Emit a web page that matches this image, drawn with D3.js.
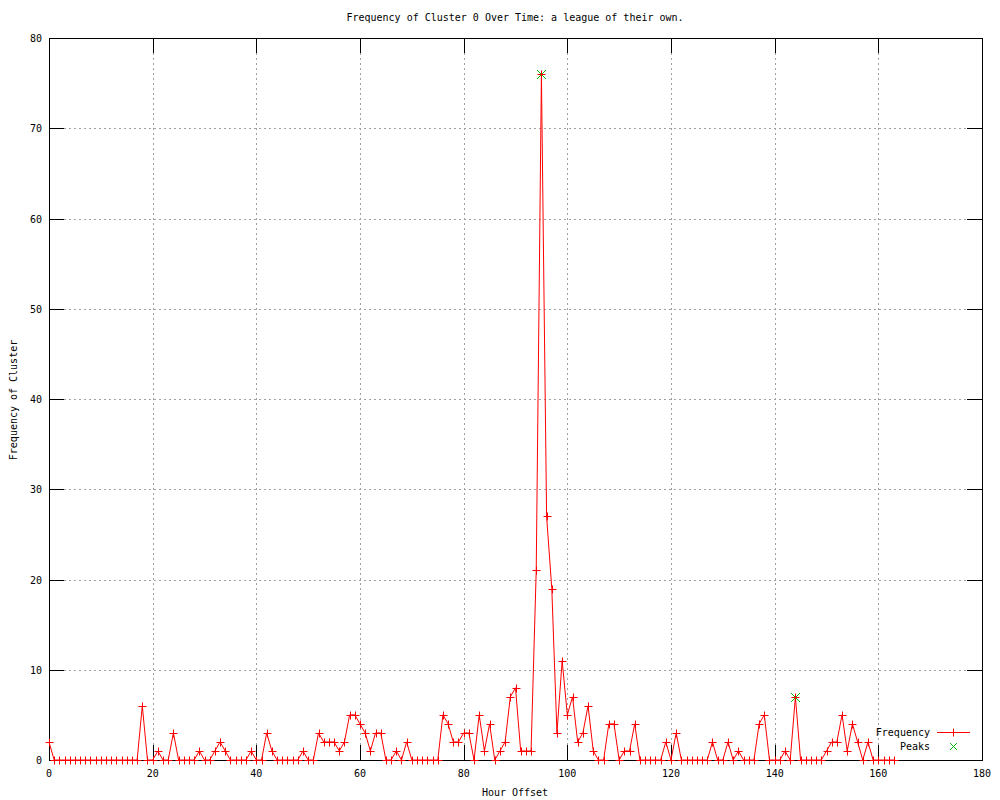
<!DOCTYPE html>
<html>
<head>
<meta charset="utf-8">
<script src="https://cdn.jsdelivr.net/npm/d3@7"></script>
<style>
  body { margin: 0; background: #fff; }
  svg { display: block; }
  text { font-family: "DejaVu Sans Mono", monospace; font-size: 10px; fill: #000; }
</style>
</head>
<body>
<div id="chart"></div>
<script>
// hour offsets 0..163
const hours = d3.range(0, 164);
const frequency = [
  2, 0, 0, 0, 0, 0, 0, 0, 0, 0, 0, 0, 0, 0, 0, 0, 0, 0, 6, 0,
  0, 1, 0, 0, 3, 0, 0, 0, 0, 1, 0, 0, 1, 2, 1, 0, 0, 0, 0, 1,
  0, 0, 3, 1, 0, 0, 0, 0, 0, 1, 0, 0, 3, 2, 2, 2, 1, 2, 5, 5,
  4, 3, 1, 3, 3, 0, 0, 1, 0, 2, 0, 0, 0, 0, 0, 0, 5, 4, 2, 2,
  3, 3, 0, 5, 1, 4, 0, 1, 2, 7, 8, 1, 1, 1, 21, 76, 27, 19, 3, 11,
  5, 7, 2, 3, 6, 1, 0, 0, 4, 4, 0, 1, 1, 4, 0, 0, 0, 0, 0, 2,
  0, 3, 0, 0, 0, 0, 0, 0, 2, 0, 0, 2, 0, 1, 0, 0, 0, 4, 5, 0,
  0, 0, 1, 0, 7, 0, 0, 0, 0, 0, 1, 2, 2, 5, 1, 4, 2, 0, 2, 0,
  0, 0, 0, 0
];
const peakHours = [95, 144];
const peakValues = [76, 7];
const xTicks = d3.range(0, 181, 20);
const yTicks = d3.range(0, 81, 10);

const width = 1000, height = 800;
const margin = { left: 49, right: 18, top: 38, bottom: 40 };

const svg = d3.select('#chart').append('svg')
  .attr('width', width).attr('height', height);

const x = d3.scaleLinear().domain([0, 180]).range([margin.left, width - margin.right]);
const y = d3.scaleLinear().domain([0, 80]).range([height - margin.bottom, margin.top]);

const x0 = x.range()[0], x1 = x.range()[1];
const y0 = y.range()[0], y1 = y.range()[1];

// grid
const grid = svg.append('g')
  .attr('stroke', '#a0a0a0').attr('stroke-dasharray', '2,3').attr('shape-rendering', 'crispEdges');
grid.selectAll('.gx').data(xTicks.slice(1, -1)).join('line')
  .attr('x1', d => Math.round(x(d)) + 0.5).attr('x2', d => Math.round(x(d)) + 0.5)
  .attr('y1', y1).attr('y2', y0);
grid.selectAll('.gy').data(yTicks.slice(1, -1)).join('line')
  .attr('y1', d => Math.round(y(d)) + 0.5).attr('y2', d => Math.round(y(d)) + 0.5)
  .attr('x1', x0).attr('x2', x1);

// ticks (inward, mirrored)
const tk = 15;
const ticks = svg.append('g').attr('stroke', '#000').attr('shape-rendering', 'crispEdges');
xTicks.forEach(d => {
  const px = Math.round(x(d)) + 0.5;
  ticks.append('line').attr('x1', px).attr('x2', px).attr('y1', y0).attr('y2', y0 - tk);
  ticks.append('line').attr('x1', px).attr('x2', px).attr('y1', y1).attr('y2', y1 + tk);
});
yTicks.forEach(d => {
  const py = Math.round(y(d)) + 0.5;
  ticks.append('line').attr('y1', py).attr('y2', py).attr('x1', x0).attr('x2', x0 + tk);
  ticks.append('line').attr('y1', py).attr('y2', py).attr('x1', x1).attr('x2', x1 - tk);
});

// border
svg.append('rect')
  .attr('x', x0 + 0.5).attr('y', y1 + 0.5)
  .attr('width', x1 - x0).attr('height', y0 - y1)
  .attr('fill', 'none').attr('stroke', '#000').attr('shape-rendering', 'crispEdges');

// tick labels
svg.append('g').selectAll('text').data(xTicks).join('text')
  .attr('x', d => x(d)).attr('y', y0 + 17)
  .attr('text-anchor', 'middle').text(d => d);
svg.append('g').selectAll('text').data(yTicks).join('text')
  .attr('x', x0 - 7).attr('y', d => y(d) + 4)
  .attr('text-anchor', 'end').text(d => d);

// titles
svg.append('text').attr('x', 515).attr('y', 21).attr('text-anchor', 'middle')
  .text('Frequency of Cluster 0 Over Time: a league of their own.');
svg.append('text').attr('x', 515).attr('y', 796).attr('text-anchor', 'middle')
  .text('Hour Offset');
svg.append('text').attr('transform', 'translate(17,400) rotate(-90)').attr('text-anchor', 'middle')
  .text('Frequency of Cluster');

// series
const red = '#ff0000', green = '#00c000';
const pts = hours.map((h, i) => [h, frequency[i]]);
svg.append('path').datum(pts)
  .attr('fill', 'none').attr('stroke', red).attr('stroke-width', 1)
  .attr('d', d3.line().x(d => x(d[0])).y(d => y(d[1])));

const plus = (sel, s) => sel.attr('d', `M${-s},0H${s}M0,${-s}V${s}`);
const cross = (sel, s) => sel.attr('d', `M${-s},${-s}L${s},${s}M${-s},${s}L${s},${-s}`);
const snap = v => Math.round(v) + 0.5;

const peaks = peakHours.map((h, i) => [h, peakValues[i]]);
cross(svg.append('g').selectAll('path').data(peaks).join('path')
  .attr('transform', d => `translate(${snap(x(d[0]))},${snap(y(d[1]))})`)
  .attr('stroke', green).attr('fill', 'none'), 4.5);

plus(svg.append('g').selectAll('path').data(pts).join('path')
  .attr('transform', d => `translate(${snap(x(d[0]))},${snap(y(d[1]))})`)
  .attr('stroke', red).attr('fill', 'none'), 4);

// legend
const lg = svg.append('g');
lg.append('text').attr('x', 930).attr('y', 736).attr('text-anchor', 'end').text('Frequency');
lg.append('line').attr('x1', 937).attr('x2', 970).attr('y1', 732.5).attr('y2', 732.5)
  .attr('stroke', red);
plus(lg.append('path').attr('transform', 'translate(953.5,732.5)')
  .attr('stroke', red).attr('fill', 'none'), 4);
lg.append('text').attr('x', 930).attr('y', 750).attr('text-anchor', 'end').text('Peaks');
cross(lg.append('path').attr('transform', 'translate(953.5,746.5)')
  .attr('stroke', green).attr('fill', 'none'), 3.5);
</script>
</body>
</html>
